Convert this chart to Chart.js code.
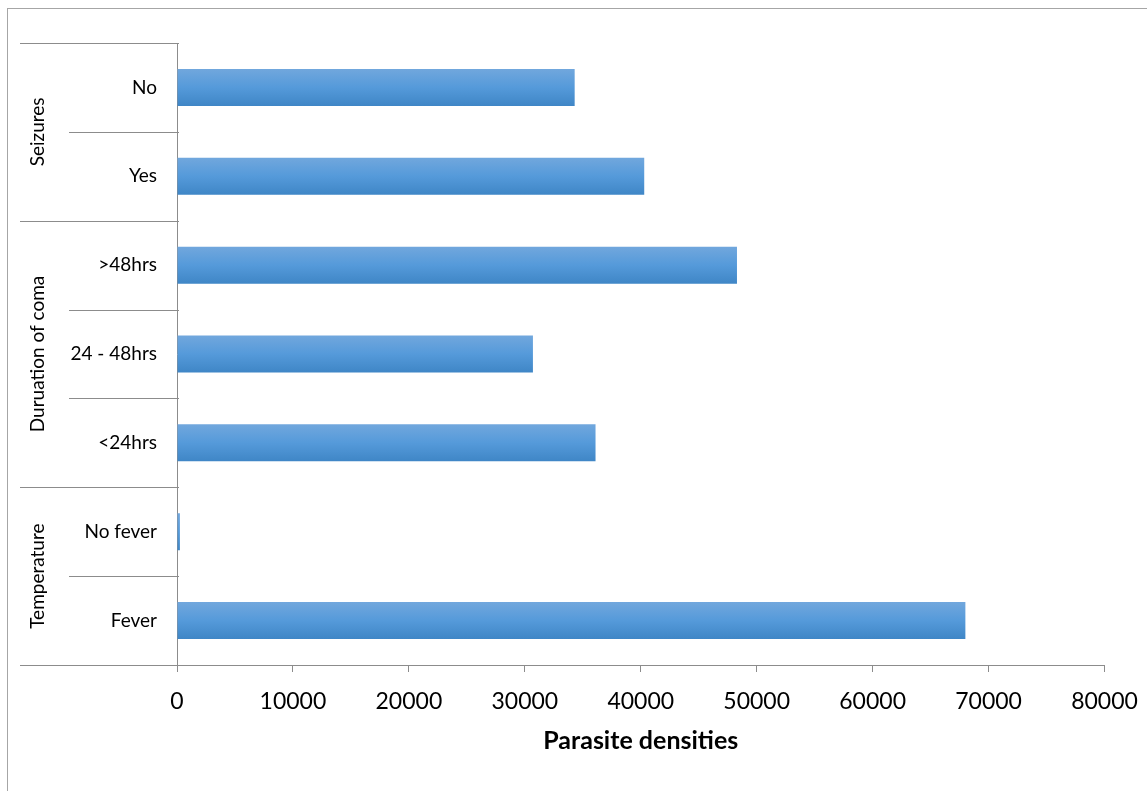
<!DOCTYPE html>
<html>
<head>
<meta charset="utf-8">
<script src="https://cdn.jsdelivr.net/npm/chart.js@4"></script>
<style>
  html, body { margin: 0; padding: 0; background: #fff; }
  #wrap { position: relative; width: 1147px; height: 791px; overflow: hidden; }
  #frame { position: absolute; left: 7px; top: 8px; width: 1160px; height: 820px;
           border: 1px solid #a6a6a6; box-sizing: border-box; }
  #c { position: absolute; left: 0; top: 0; }
</style>
</head>
<body>
<div id="wrap">
  <div id="frame"></div>
  <canvas id="c" width="1147" height="791"></canvas>
</div>
<script>
// Categories listed top to bottom, with their group on the outer axis level
const categories = ['No', 'Yes', '>48hrs', '24 - 48hrs', '<24hrs', 'No fever', 'Fever'];
const densities  = [34300, 40300, 48300, 30700, 36100, 250, 68000];
const groupNames = ['Seizures', 'Duruation of coma', 'Temperature'];
const groupStart = [0, 2, 5];
const groupEnd   = [1, 4, 6];
const xMin = 0, xMax = 80000, xStep = 10000;
const axisTitle = 'Parasite densities';

const FONT = 'Lato, "Open Sans", sans-serif';
const LINE = '#8c8c8c';
const BAR_PCT = 0.416;

// Vertical gradient fill for each bar, spanning that bar's own thickness
function barFill(c) {
  const chart = c.chart;
  const ys = chart.scales.y;
  if (!ys || !chart.chartArea) return '#5b9bd5';
  const yc = ys.getPixelForValue(c.dataIndex);
  const half = (ys.height / categories.length) * BAR_PCT / 2;
  const g = chart.ctx.createLinearGradient(0, yc - half, 0, yc + half);
  g.addColorStop(0, '#71a7dd');
  g.addColorStop(0.5, '#559ada');
  g.addColorStop(1, '#3f86c6');
  return g;
}

// Two-level category axis: separators and rotated group labels
const multiLevelAxis = {
  id: 'multiLevelAxis',
  afterDraw(chart) {
    const ctx = chart.ctx;
    const ys = chart.scales.y;
    const area = chart.chartArea;
    const n = categories.length;
    const step = ys.getPixelForValue(1) - ys.getPixelForValue(0);
    const edge = i => ys.getPixelForValue(i) - step / 2;
    ctx.save();
    ctx.strokeStyle = LINE;
    ctx.lineWidth = 1;
    for (let i = 0; i <= n; i++) {
      const outer = i === n || groupStart.includes(i);
      const y = Math.round(edge(i)) + 0.5;
      ctx.beginPath();
      ctx.moveTo(outer ? 20 : 69, y);
      ctx.lineTo(area.left + 2, y);
      ctx.stroke();
    }
    ctx.fillStyle = '#000';
    ctx.font = '19px ' + FONT;
    ctx.textAlign = 'center';
    ctx.textBaseline = 'middle';
    groupNames.forEach((name, k) => {
      const yMid = (edge(groupStart[k]) + edge(groupEnd[k] + 1)) / 2;
      ctx.save();
      ctx.translate(38, yMid);
      ctx.rotate(-Math.PI / 2);
      ctx.fillText(name, 0, 0);
      ctx.restore();
    });
    ctx.restore();
  }
};

new Chart(document.getElementById('c'), {
  type: 'bar',
  data: {
    labels: categories,
    datasets: [{
      data: densities,
      backgroundColor: barFill,
      borderWidth: 0,
      barPercentage: BAR_PCT,
      categoryPercentage: 1
    }]
  },
  options: {
    indexAxis: 'y',
    responsive: false,
    animation: false,
    events: [],
    layout: { padding: { left: 0, right: 42.5, top: 43, bottom: 0 } },
    plugins: { legend: { display: false }, tooltip: { enabled: false } },
    scales: {
      x: {
        min: xMin, max: xMax,
        ticks: { stepSize: xStep, color: '#000', padding: 16,
                 font: { family: FONT, size: 23 }, maxRotation: 0,
                 callback: v => String(v) },
        grid: { drawOnChartArea: false, drawTicks: true, tickLength: 7, color: LINE },
        border: { display: true, color: LINE },
        title: { display: true, text: axisTitle, color: '#000',
                 font: { family: FONT, size: 25, weight: 'bold' },
                 padding: { top: 0, bottom: 35 } },
        afterFit(s) { s.height = 126; s.paddingLeft = 0; s.paddingRight = 0; }
      },
      y: {
        ticks: { color: '#000', padding: 20, font: { family: FONT, size: 19 } },
        grid: { display: false, drawTicks: false },
        border: { display: true, color: LINE },
        afterFit(s) { s.width = 177; s.paddingTop = 0; s.paddingBottom = 0; }
      }
    }
  },
  plugins: [multiLevelAxis]
});
</script>
</body>
</html>
